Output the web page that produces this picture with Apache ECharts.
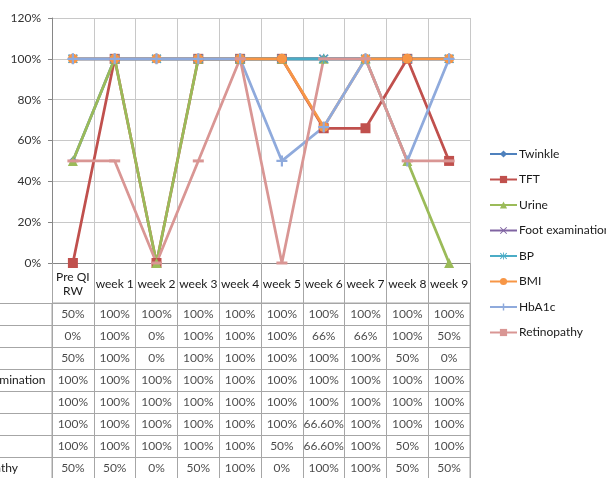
<!DOCTYPE html>
<html>
<head>
<meta charset="utf-8">
<script src="https://cdn.jsdelivr.net/npm/echarts@6/dist/echarts.min.js"></script>
<style>html,body{margin:0;padding:0;background:#fff;}#c{width:606px;height:478px;}</style>
</head>
<body>
<div id="c"></div>
<script>
var categories = ['Pre QI\nRW','week 1','week 2','week 3','week 4','week 5','week 6','week 7','week 8','week 9'];
var yTicks = [0, 20, 40, 60, 80, 100, 120];
var seriesNames = ['Twinkle','TFT','Urine','Foot examination','BP','BMI','HbA1c','Retinopathy'];
var twinkle     = [50,100,100,100,100,100,100,100,100,100];
var tft         = [0,100,0,100,100,100,66,66,100,50];
var urine       = [50,100,0,100,100,100,100,100,50,0];
var foot        = [100,100,100,100,100,100,100,100,100,100];
var bp          = [100,100,100,100,100,100,100,100,100,100];
var bmi         = [100,100,100,100,100,100,66.6,100,100,100];
var hba1c       = [100,100,100,100,100,50,66.6,100,50,100];
var retinopathy = [50,50,0,50,100,0,100,100,50,50];
var allValues = [twinkle, tft, urine, foot, bp, bmi, hba1c, retinopathy];

var colors = ['#4F81BD','#C0504D','#9BBB59','#8064A2','#4BACC6','#F79646','#8FAADC','#D99694'];
var PLUS = 'path://M4,0H6V4H10V6H6V10H4V6H0V4H4Z';
var XS = 'path://M0,1L1,0L5,4L9,0L10,1L6,5L10,9L9,10L5,6L1,10L0,9L4,5Z';
var STAR = 'path://M0,1.5L1,0.5L4.4,3.9V0H5.6V3.9L9,0.5L10,1.5L6.1,5L10,8.5L9,9.5L5.6,6.1V10H4.4V6.1L1,9.5L0,8.5L3.9,5Z';
var DASH = 'path://M0,0H10V2.4H0Z';
var symbols = ['diamond','rect','triangle',XS,STAR,'circle',PLUS,DASH];
var symSizes = [9,10,10,9,10,10,11,[11,3]];

var FONT = 'Lato';
function fmt(v){ return (Math.round(v) === v ? v : v.toFixed(2)) + '%'; }

var series = seriesNames.map(function(n, i){
  return {
    name: n, type: 'line', data: allValues[i],
    xAxisIndex: 0, yAxisIndex: 0,
    symbol: symbols[i], symbolSize: symSizes[i], showSymbol: true,
    lineStyle: {width: 2.75, color: colors[i]},
    itemStyle: {color: colors[i], borderWidth: 0},
    emphasis: {disabled: true}
  };
});
var cells = [];
seriesNames.forEach(function(n, i){
  allValues[i].forEach(function(v, j){ cells.push([j, i, fmt(v)]); });
});
series.push({
  name: 'cells', type: 'scatter', xAxisIndex: 1, yAxisIndex: 1,
  data: cells, symbolSize: 1, itemStyle: {color: 'rgba(0,0,0,0)'},
  label: {show: true, position: 'inside', formatter: function(p){ return p.value[2]; },
          color: '#1a1a1a', fontFamily: FONT, fontSize: 12},
  silent: true
});

var chart = echarts.init(document.getElementById('c'), null, {renderer: 'canvas'});
chart.setOption({
  animation: false,
  backgroundColor: '#fff',
  textStyle: {fontFamily: FONT},
  grid: [
    {left: 52, top: 18, width: 418, height: 245, containLabel: false, outerBoundsMode: 'none'},
    {left: 52, top: 303, width: 418, height: 176, show: true, borderColor: '#a6a6a6', borderWidth: 1, containLabel: false, outerBoundsMode: 'none'}
  ],
  legend: {
    data: seriesNames, orient: 'vertical', left: 489, top: 147, padding: 0,
    itemWidth: 27, itemHeight: 9, itemGap: 11.5,
    textStyle: {fontFamily: FONT, fontSize: 12, color: '#1a1a1a', lineHeight: 14, padding: [0, 0, 0, -3]},
    selectedMode: false
  },
  xAxis: [
    {gridIndex: 0, type: 'category', data: categories, boundaryGap: true,
     axisLine: {lineStyle: {color: '#868686', width: 1}},
     axisTick: {show: true, length: 40, lineStyle: {color: '#a6a6a6'}},
     axisLabel: {margin: 21, verticalAlign: 'middle', lineHeight: 14, color: '#1a1a1a', fontFamily: FONT, fontSize: 12, interval: 0},
     splitLine: {show: true, lineStyle: {color: '#c8c8c8', width: 1}}},
    {gridIndex: 1, type: 'category', data: categories, boundaryGap: true,
     axisLine: {show: false}, axisTick: {show: false}, axisLabel: {show: false},
     splitLine: {show: true, interval: 0, lineStyle: {color: '#a6a6a6', width: 1}}}
  ],
  yAxis: [
    {gridIndex: 0, type: 'value', min: yTicks[0], max: yTicks[yTicks.length-1], interval: 20,
     axisLine: {show: true, lineStyle: {color: '#868686'}},
     axisTick: {show: true, length: 4, lineStyle: {color: '#868686'}},
     axisLabel: {formatter: '{value}%', margin: 11, color: '#333', fontFamily: FONT, fontSize: 12},
     splitLine: {show: true, lineStyle: {color: '#c8c8c8', width: 1}}},
    {gridIndex: 1, type: 'category', data: seriesNames, inverse: true, boundaryGap: true,
     axisLine: {show: false},
     axisTick: {show: true, length: 53, interval: 0, lineStyle: {color: '#a6a6a6'}},
     axisLabel: {align: 'left', margin: 98, color: '#1a1a1a', fontFamily: FONT, fontSize: 12, interval: 0},
     splitLine: {show: true, interval: 0, lineStyle: {color: '#a6a6a6', width: 1}}}
  ],
  series: series
});
</script>
</body>
</html>
